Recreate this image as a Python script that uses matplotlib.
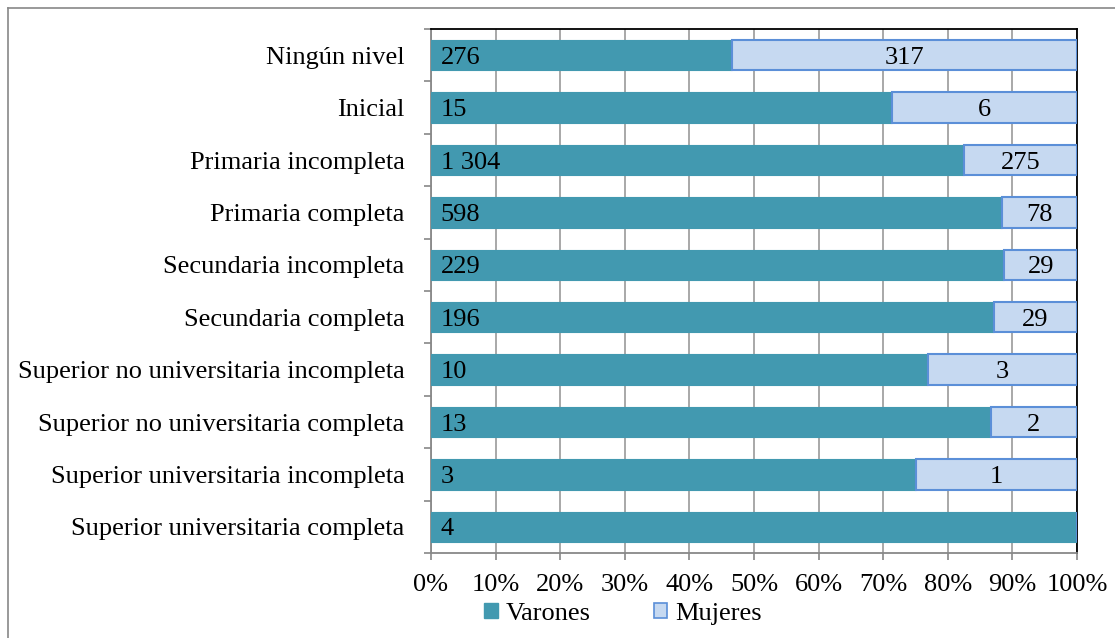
import matplotlib
matplotlib.use("Agg")
import matplotlib.pyplot as plt
from matplotlib.patches import Patch
from matplotlib.lines import Line2D
import numpy as np

categories = ["Ningún nivel", "Inicial", "Primaria incompleta", "Primaria completa",
              "Secundaria incompleta", "Secundaria completa",
              "Superior no universitaria incompleta", "Superior no universitaria completa",
              "Superior universitaria incompleta", "Superior universitaria completa"]
varones = [276, 15, 1304, 598, 229, 196, 10, 13, 3, 4]
mujeres = [317, 6, 275, 78, 29, 29, 3, 2, 1, 0]
xticks = [0, 10, 20, 30, 40, 50, 60, 70, 80, 90, 100]

def fmt(v):
    return f"{v:,}".replace(",", " ")

plt.rcParams['font.family'] = ['Liberation Serif', 'DejaVu Serif']
FS = 19

fig = plt.figure(figsize=(11.15, 6.38), dpi=100)
ax = fig.add_axes([431/1115, 1-553/638, (1077-431)/1115, (553-29)/638])

v = np.array(varones, float)
m = np.array(mujeres, float)
tot = v + m
pv = v / tot * 100
pm = m / tot * 100
y = np.arange(len(categories))

teal = "#4299B0"
light = "#C6D9F1"
edge = "#5B8FD8"

ax.barh(y, pv, height=0.58, color=teal, edgecolor=teal, linewidth=0.8, zorder=3)
ax.barh(y, pm, left=pv, height=0.58, color=light, edgecolor=edge, linewidth=1.5, zorder=3)

for i in range(len(categories)):
    ax.text(1.5, y[i], fmt(varones[i]), ha='left', va='center_baseline', fontsize=FS, zorder=4)
    if mujeres[i] > 0:
        ax.text(pv[i] + pm[i] / 2, y[i], fmt(mujeres[i]), ha='center', va='center_baseline',
                fontsize=FS, zorder=4)

ax.set_xlim(0, 100)
ax.set_ylim(len(categories) - 0.5, -0.5)
ax.set_xticks(xticks)
ax.set_xticklabels([f"{t}%" for t in xticks], fontsize=FS)
ax.set_yticks(y)
ax.set_yticklabels(categories, fontsize=FS)
ax.set_yticks(np.arange(len(categories) + 1) - 0.5, minor=True)
ax.tick_params(axis='y', which='major', length=0, pad=19)
ax.tick_params(axis='y', which='minor', length=5, width=1.2, color='#888888', direction='out')
ax.tick_params(axis='x', which='major', length=5, width=1.2, color='#888888', direction='out', pad=10)
ax.grid(axis='x', color='#999999', linewidth=1.2, zorder=0)

ax.spines['left'].set_color('#888888')
ax.spines['left'].set_linewidth(1.3)
ax.spines['bottom'].set_color('#888888')
ax.spines['bottom'].set_linewidth(1.3)
ax.spines['top'].set_color('black')
ax.spines['top'].set_linewidth(1.3)
ax.spines['right'].set_color('black')
ax.spines['right'].set_linewidth(1.3)

handles = [Patch(facecolor=teal, edgecolor=teal, label="Varones"),
           Patch(facecolor=light, edgecolor=edge, linewidth=1.2, label="Mujeres")]
fig.legend(handles=handles, loc='center', bbox_to_anchor=(623/1115, 1-614/638), ncol=2,
           frameon=False, fontsize=FS, handlelength=0.5, handleheight=0.5,
           handletextpad=0.3, columnspacing=2.4, borderpad=0)

# figure border (left and top only visible)
fig.add_artist(Line2D([8/1115, 8/1115], [0, 1-8/638], transform=fig.transFigure, color='#888888', linewidth=1.2))
fig.add_artist(Line2D([8/1115, 1], [1-8/638, 1-8/638], transform=fig.transFigure, color='#888888', linewidth=1.2))

fig.savefig("out.png", dpi=100)
